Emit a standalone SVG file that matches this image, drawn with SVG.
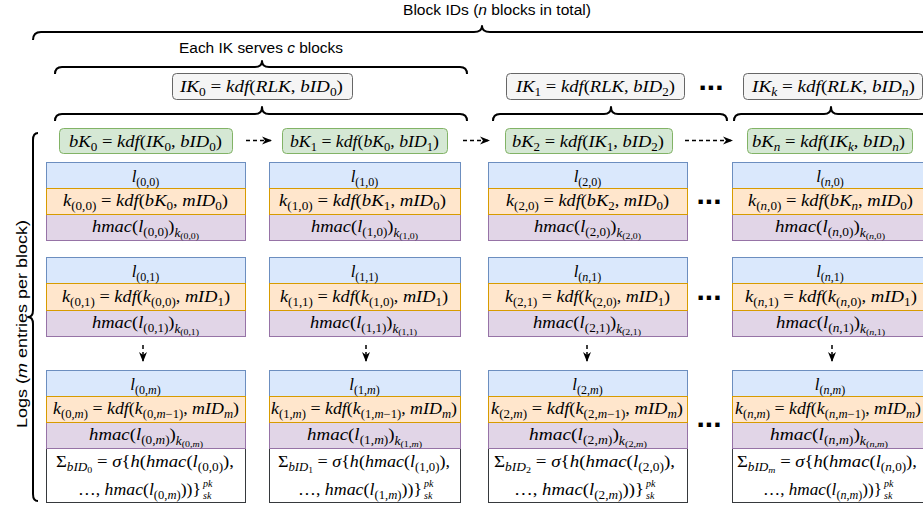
<svg xmlns="http://www.w3.org/2000/svg" width="923" height="508" viewBox="0 0 923 508">
<style>
.m{font-family:"Liberation Serif","DejaVu Serif",serif;font-size:17px;font-style:italic;fill:#000}
.r{font-style:normal}
.s{font-size:12px}
.ss{font-size:9px}
.sc{font-size:10px}
.sans{font-family:"Liberation Sans",Arial,sans-serif;font-size:15.5px;fill:#000}
.dots{font-family:"Liberation Sans",Arial,sans-serif;font-size:30px;font-weight:bold;fill:#000}
.brace{fill:none;stroke:#000;stroke-width:2;stroke-linejoin:round}
.blue{fill:#dae8fc;stroke:#6c8ebf}
.orange{fill:#ffe6cc;stroke:#d79b00}
.purple{fill:#e1d5e7;stroke:#9673a6}
.white{fill:#fff;stroke:#36393d}
.green{fill:#d5e8d4;stroke:#82b366}
.gray{fill:#f5f5f5;stroke:#666}
.conn{fill:none;stroke:#000;stroke-width:1.5;stroke-dasharray:4 3}
</style>
<defs>
<marker id="ah" viewBox="0 0 10 10" refX="9" refY="5" markerWidth="10" markerHeight="10" markerUnits="userSpaceOnUse" orient="auto"><path d="M0,1 L10,5 L0,9 L3,5 Z" fill="#000"/></marker>
</defs>

<g id="labels">
<text class="sans" x="403" y="15" textLength="188" lengthAdjust="spacingAndGlyphs">Block IDs (<tspan font-style="italic">n</tspan> blocks in total)</text>
<text class="sans" x="179" y="53" textLength="164" lengthAdjust="spacingAndGlyphs">Each IK serves <tspan font-style="italic">c</tspan> blocks</text>
<text class="sans" transform="translate(27,324) rotate(-90)" x="-104" y="0" font-size="16" textLength="208" lengthAdjust="spacingAndGlyphs">Logs (<tspan font-style="italic">m</tspan> entries per block)</text>
</g>

<g id="braces">
<path class="brace" d="M33,40 Q33,32 41,32 L474,32 Q482,32 482,26 Q482,32 490,32 L930,32"/>
<path class="brace" d="M55,74 Q55,67 62,67 L255,67 Q262,67 262,61 Q262,67 269,67 L460,67 Q467,67 467,74"/>
<path class="brace" d="M55,121 Q55,114 62,114 L255,114 Q262,114 262,107 Q262,114 269,114 L460,114 Q467,114 467,121"/>
<path class="brace" d="M493,121 Q493,114 500,114 L604,114 Q611,114 611,107 Q611,114 618,114 L720,114 Q727,114 727,121"/>
<path class="brace" d="M734,121 Q734,114 741,114 L824,114 Q831,114 831,107 Q831,114 838,114 L930,114"/>
<path class="brace" d="M38,133 Q33,133 33,140 L33,310 Q33,317 28,317 Q33,317 33,324 L33,494 Q33,501 38,501"/>
</g>

<g id="ik0">
<rect class="gray" x="172.5" y="73.5" width="180" height="26" rx="4"/>
<text class="m" x="180" y="92" textLength="163" lengthAdjust="spacingAndGlyphs">IK<tspan class="s r" dy="4">0</tspan><tspan class="r" dy="-4"> = </tspan>kdf<tspan class="r">(</tspan>RLK<tspan class="r">, </tspan>bID<tspan class="s r" dy="4">0</tspan><tspan class="r" dy="-4">)</tspan></text>
</g>
<g id="ik1">
<rect class="gray" x="506.5" y="73.5" width="178" height="26" rx="4"/>
<text class="m" x="516" y="92" textLength="159" lengthAdjust="spacingAndGlyphs">IK<tspan class="s r" dy="4">1</tspan><tspan class="r" dy="-4"> = </tspan>kdf<tspan class="r">(</tspan>RLK<tspan class="r">, </tspan>bID<tspan class="s r" dy="4">2</tspan><tspan class="r" dy="-4">)</tspan></text>
</g>
<text class="dots" x="711" y="90" text-anchor="middle">...</text>
<g id="ikk">
<rect class="gray" x="743.5" y="73.5" width="179" height="26" rx="4"/>
<text class="m" x="752" y="92" textLength="163" lengthAdjust="spacingAndGlyphs">IK<tspan class="s" dy="4">k</tspan><tspan class="r" dy="-4"> = </tspan>kdf<tspan class="r">(</tspan>RLK<tspan class="r">, </tspan>bID<tspan class="s" dy="4">n</tspan><tspan class="r" dy="-4">)</tspan></text>
</g>

<g id="bk0">
<rect class="green" x="59.5" y="128.5" width="173" height="25" rx="4"/>
<text class="m" x="69" y="146.5" textLength="153" lengthAdjust="spacingAndGlyphs">bK<tspan class="s r" dy="4">0</tspan><tspan class="r" dy="-4"> = </tspan>kdf<tspan class="r">(</tspan>IK<tspan class="s r" dy="4">0</tspan><tspan class="r" dy="-4">, </tspan>bID<tspan class="s r" dy="4">0</tspan><tspan class="r" dy="-4">)</tspan></text>
</g>
<g id="bk1">
<rect class="green" x="282.5" y="128.5" width="165" height="25" rx="4"/>
<text class="m" x="290" y="146.5" textLength="149" lengthAdjust="spacingAndGlyphs">bK<tspan class="s r" dy="4">1</tspan><tspan class="r" dy="-4"> = </tspan>kdf<tspan class="r">(</tspan>bK<tspan class="s r" dy="4">0</tspan><tspan class="r" dy="-4">, </tspan>bID<tspan class="s r" dy="4">1</tspan><tspan class="r" dy="-4">)</tspan></text>
</g>
<g id="bk2">
<rect class="green" x="505.5" y="128.5" width="167" height="25" rx="4"/>
<text class="m" x="512" y="146.5" textLength="152" lengthAdjust="spacingAndGlyphs">bK<tspan class="s r" dy="4">2</tspan><tspan class="r" dy="-4"> = </tspan>kdf<tspan class="r">(</tspan>IK<tspan class="s r" dy="4">1</tspan><tspan class="r" dy="-4">, </tspan>bID<tspan class="s r" dy="4">2</tspan><tspan class="r" dy="-4">)</tspan></text>
</g>
<g id="bkn">
<rect class="green" x="747.5" y="128.5" width="165" height="25" rx="4"/>
<text class="m" x="752" y="146.5" textLength="153" lengthAdjust="spacingAndGlyphs">bK<tspan class="s" dy="4">n</tspan><tspan class="r" dy="-4"> = </tspan>kdf<tspan class="r">(</tspan>IK<tspan class="s" dy="4">k</tspan><tspan class="r" dy="-4">, </tspan>bID<tspan class="s" dy="4">n</tspan><tspan class="r" dy="-4">)</tspan></text>
</g>

<g id="connectors">
<line class="conn" x1="246" y1="140.5" x2="271" y2="140.5" marker-end="url(#ah)"/>
<line class="conn" x1="463" y1="140.5" x2="489" y2="140.5" marker-end="url(#ah)"/>
<line class="conn" x1="685" y1="140.5" x2="732" y2="140.5" marker-end="url(#ah)"/>
<line class="conn" x1="143" y1="345" x2="143" y2="361" marker-end="url(#ah)"/>
<line class="conn" x1="366" y1="345" x2="366" y2="361" marker-end="url(#ah)"/>
<line class="conn" x1="587" y1="345" x2="587" y2="361" marker-end="url(#ah)"/>
<line class="conn" x1="832" y1="345" x2="832" y2="361" marker-end="url(#ah)"/>
</g>

<!-- column 0 -->
<g id="e00">
<rect class="blue" x="46.5" y="162.5" width="199" height="26"/>
<rect class="purple" x="46.5" y="214.5" width="199" height="26"/>
<rect class="orange" x="46.5" y="188.5" width="199" height="26"/>
<text class="m" x="145.5" y="181.5" text-anchor="middle">l<tspan class="s r" dy="4">(0,0)</tspan></text>
<text class="m" x="63" y="206" textLength="165" lengthAdjust="spacingAndGlyphs">k<tspan class="s r" dy="4">(0,0)</tspan><tspan class="r" dy="-4"> = </tspan>kdf<tspan class="r">(</tspan>bK<tspan class="s r" dy="4">0</tspan><tspan class="r" dy="-4">, </tspan>mID<tspan class="s r" dy="4">0</tspan><tspan class="r" dy="-4">)</tspan></text>
<text class="m" x="92" y="232" textLength="107" lengthAdjust="spacingAndGlyphs">hmac<tspan class="r">(</tspan>l<tspan class="s r" dy="4">(0,0)</tspan><tspan class="r" dy="-4">)</tspan><tspan class="s" dy="5">k</tspan><tspan class="ss r" dy="2">(0,0)</tspan></text>
</g>
<g id="e01">
<rect class="blue" x="46.5" y="257.5" width="199" height="26"/>
<rect class="purple" x="46.5" y="310.5" width="199" height="26"/>
<rect class="orange" x="46.5" y="283.5" width="199" height="27"/>
<text class="m" x="145.5" y="276.5" text-anchor="middle">l<tspan class="s r" dy="4">(0,1)</tspan></text>
<text class="m" x="62" y="301.5" textLength="168" lengthAdjust="spacingAndGlyphs">k<tspan class="s r" dy="4">(0,1)</tspan><tspan class="r" dy="-4"> = </tspan>kdf<tspan class="r">(</tspan>k<tspan class="s r" dy="4">(0,0)</tspan><tspan class="r" dy="-4">, </tspan>mID<tspan class="s r" dy="4">1</tspan><tspan class="r" dy="-4">)</tspan></text>
<text class="m" x="92" y="328" textLength="107" lengthAdjust="spacingAndGlyphs">hmac<tspan class="r">(</tspan>l<tspan class="s r" dy="4">(0,1)</tspan><tspan class="r" dy="-4">)</tspan><tspan class="s" dy="5">k</tspan><tspan class="ss r" dy="2">(0,1)</tspan></text>
</g>
<g id="e0m">
<rect class="blue" x="46.5" y="370.5" width="199" height="26"/>
<rect class="white" x="46.5" y="448.5" width="199" height="54"/>
<rect class="purple" x="46.5" y="422.5" width="199" height="26"/>
<rect class="orange" x="46.5" y="396.5" width="199" height="26"/>
<text class="m" x="145.5" y="389.5" text-anchor="middle">l<tspan class="s" dy="4"><tspan class="r">(0,</tspan>m<tspan class="r">)</tspan></tspan></text>
<text class="m" x="53" y="414" textLength="186" lengthAdjust="spacingAndGlyphs">k<tspan class="s" dy="4"><tspan class="r">(0,</tspan>m<tspan class="r">)</tspan></tspan><tspan class="r" dy="-4"> = </tspan>kdf<tspan class="r">(</tspan>k<tspan class="s" dy="4"><tspan class="r">(0,</tspan>m<tspan class="r">−1)</tspan></tspan><tspan class="r" dy="-4">, </tspan>mID<tspan class="s" dy="4">m</tspan><tspan class="r" dy="-4">)</tspan></text>
<text class="m" x="89" y="440" textLength="114" lengthAdjust="spacingAndGlyphs">hmac<tspan class="r">(</tspan>l<tspan class="s" dy="4"><tspan class="r">(0,</tspan>m<tspan class="r">)</tspan></tspan><tspan class="r" dy="-4">)</tspan><tspan class="s" dy="5">k</tspan><tspan class="ss" dy="2"><tspan class="r">(0,</tspan>m<tspan class="r">)</tspan></tspan></text>
<text class="m" x="56" y="467" textLength="178" lengthAdjust="spacingAndGlyphs"><tspan class="r">Σ</tspan><tspan class="s" dy="4">bID</tspan><tspan class="ss r" dy="2">0</tspan><tspan class="r" dy="-6"> = </tspan>σ<tspan class="r">{</tspan>h<tspan class="r">(</tspan>hmac<tspan class="r">(</tspan>l<tspan class="s r" dy="4">(0,0)</tspan><tspan class="r" dy="-4">),</tspan></text>
<text class="m" x="78" y="495" textLength="123" lengthAdjust="spacingAndGlyphs"><tspan class="r">…, </tspan>hmac<tspan class="r">(</tspan>l<tspan class="s" dy="4"><tspan class="r">(0,</tspan>m<tspan class="r">)</tspan></tspan><tspan class="r" dy="-4">))}</tspan></text>
<text class="m sc" x="203" y="486.5">pk</text>
<text class="m sc" x="203" y="499">sk</text>
</g>

<!-- column 1 -->
<g id="e10">
<rect class="blue" x="269.5" y="162.5" width="191" height="26"/>
<rect class="purple" x="269.5" y="214.5" width="191" height="26"/>
<rect class="orange" x="269.5" y="188.5" width="191" height="26"/>
<text class="m" x="364.5" y="181.5" text-anchor="middle">l<tspan class="s r" dy="4">(1,0)</tspan></text>
<text class="m" x="279" y="206" textLength="167" lengthAdjust="spacingAndGlyphs">k<tspan class="s r" dy="4">(1,0)</tspan><tspan class="r" dy="-4"> = </tspan>kdf<tspan class="r">(</tspan>bK<tspan class="s r" dy="4">1</tspan><tspan class="r" dy="-4">, </tspan>mID<tspan class="s r" dy="4">0</tspan><tspan class="r" dy="-4">)</tspan></text>
<text class="m" x="311" y="232" textLength="107" lengthAdjust="spacingAndGlyphs">hmac<tspan class="r">(</tspan>l<tspan class="s r" dy="4">(1,0)</tspan><tspan class="r" dy="-4">)</tspan><tspan class="s" dy="5">k</tspan><tspan class="ss r" dy="2">(1,0)</tspan></text>
</g>
<g id="e11">
<rect class="blue" x="269.5" y="257.5" width="191" height="26"/>
<rect class="purple" x="269.5" y="310.5" width="191" height="26"/>
<rect class="orange" x="269.5" y="283.5" width="191" height="27"/>
<text class="m" x="364.5" y="276.5" text-anchor="middle">l<tspan class="s r" dy="4">(1,1)</tspan></text>
<text class="m" x="280" y="301.5" textLength="168" lengthAdjust="spacingAndGlyphs">k<tspan class="s r" dy="4">(1,1)</tspan><tspan class="r" dy="-4"> = </tspan>kdf<tspan class="r">(</tspan>k<tspan class="s r" dy="4">(1,0)</tspan><tspan class="r" dy="-4">, </tspan>mID<tspan class="s r" dy="4">1</tspan><tspan class="r" dy="-4">)</tspan></text>
<text class="m" x="310" y="328" textLength="107" lengthAdjust="spacingAndGlyphs">hmac<tspan class="r">(</tspan>l<tspan class="s r" dy="4">(1,1)</tspan><tspan class="r" dy="-4">)</tspan><tspan class="s" dy="5">k</tspan><tspan class="ss r" dy="2">(1,1)</tspan></text>
</g>
<g id="e1m">
<rect class="blue" x="269.5" y="370.5" width="191" height="26"/>
<rect class="white" x="269.5" y="448.5" width="191" height="54"/>
<rect class="purple" x="269.5" y="422.5" width="191" height="26"/>
<rect class="orange" x="269.5" y="396.5" width="191" height="26"/>
<text class="m" x="364.5" y="389.5" text-anchor="middle">l<tspan class="s" dy="4"><tspan class="r">(1,</tspan>m<tspan class="r">)</tspan></tspan></text>
<text class="m" x="271" y="414" textLength="186" lengthAdjust="spacingAndGlyphs">k<tspan class="s" dy="4"><tspan class="r">(1,</tspan>m<tspan class="r">)</tspan></tspan><tspan class="r" dy="-4"> = </tspan>kdf<tspan class="r">(</tspan>k<tspan class="s" dy="4"><tspan class="r">(1,</tspan>m<tspan class="r">−1)</tspan></tspan><tspan class="r" dy="-4">, </tspan>mID<tspan class="s" dy="4">m</tspan><tspan class="r" dy="-4">)</tspan></text>
<text class="m" x="307" y="440" textLength="115" lengthAdjust="spacingAndGlyphs">hmac<tspan class="r">(</tspan>l<tspan class="s" dy="4"><tspan class="r">(1,</tspan>m<tspan class="r">)</tspan></tspan><tspan class="r" dy="-4">)</tspan><tspan class="s" dy="5">k</tspan><tspan class="ss" dy="2"><tspan class="r">(1,</tspan>m<tspan class="r">)</tspan></tspan></text>
<text class="m" x="278" y="467" textLength="172" lengthAdjust="spacingAndGlyphs"><tspan class="r">Σ</tspan><tspan class="s" dy="4">bID</tspan><tspan class="ss r" dy="2">1</tspan><tspan class="r" dy="-6"> = </tspan>σ<tspan class="r">{</tspan>h<tspan class="r">(</tspan>hmac<tspan class="r">(</tspan>l<tspan class="s r" dy="4">(1,0)</tspan><tspan class="r" dy="-4">),</tspan></text>
<text class="m" x="298" y="495" textLength="124" lengthAdjust="spacingAndGlyphs"><tspan class="r">…, </tspan>hmac<tspan class="r">(</tspan>l<tspan class="s" dy="4"><tspan class="r">(1,</tspan>m<tspan class="r">)</tspan></tspan><tspan class="r" dy="-4">))}</tspan></text>
<text class="m sc" x="424" y="486.5">pk</text>
<text class="m sc" x="424" y="499">sk</text>
</g>

<!-- column 2 -->
<g id="e20">
<rect class="blue" x="488.5" y="162.5" width="199" height="26"/>
<rect class="purple" x="488.5" y="214.5" width="199" height="26"/>
<rect class="orange" x="488.5" y="188.5" width="199" height="26"/>
<text class="m" x="587.5" y="181.5" text-anchor="middle">l<tspan class="s r" dy="4">(2,0)</tspan></text>
<text class="m" x="506" y="206" textLength="163" lengthAdjust="spacingAndGlyphs">k<tspan class="s r" dy="4">(2,0)</tspan><tspan class="r" dy="-4"> = </tspan>kdf<tspan class="r">(</tspan>bK<tspan class="s r" dy="4">2</tspan><tspan class="r" dy="-4">, </tspan>mID<tspan class="s r" dy="4">0</tspan><tspan class="r" dy="-4">)</tspan></text>
<text class="m" x="534" y="232" textLength="107" lengthAdjust="spacingAndGlyphs">hmac<tspan class="r">(</tspan>l<tspan class="s r" dy="4">(2,0)</tspan><tspan class="r" dy="-4">)</tspan><tspan class="s" dy="5">k</tspan><tspan class="ss r" dy="2">(2,0)</tspan></text>
</g>
<g id="e21">
<rect class="blue" x="488.5" y="257.5" width="199" height="26"/>
<rect class="purple" x="488.5" y="310.5" width="199" height="26"/>
<rect class="orange" x="488.5" y="283.5" width="199" height="27"/>
<text class="m" x="587.5" y="276.5" text-anchor="middle">l<tspan class="s" dy="4"><tspan class="r">(</tspan>n<tspan class="r">,1)</tspan></tspan></text>
<text class="m" x="505" y="301.5" textLength="165" lengthAdjust="spacingAndGlyphs">k<tspan class="s r" dy="4">(2,1)</tspan><tspan class="r" dy="-4"> = </tspan>kdf<tspan class="r">(</tspan>k<tspan class="s r" dy="4">(2,0)</tspan><tspan class="r" dy="-4">, </tspan>mID<tspan class="s r" dy="4">1</tspan><tspan class="r" dy="-4">)</tspan></text>
<text class="m" x="533" y="328" textLength="108" lengthAdjust="spacingAndGlyphs">hmac<tspan class="r">(</tspan>l<tspan class="s r" dy="4">(2,1)</tspan><tspan class="r" dy="-4">)</tspan><tspan class="s" dy="5">k</tspan><tspan class="ss r" dy="2">(2,1)</tspan></text>
</g>
<g id="e2m">
<rect class="blue" x="488.5" y="370.5" width="199" height="26"/>
<rect class="white" x="488.5" y="448.5" width="199" height="54"/>
<rect class="purple" x="488.5" y="422.5" width="199" height="26"/>
<rect class="orange" x="488.5" y="396.5" width="199" height="26"/>
<text class="m" x="587.5" y="389.5" text-anchor="middle">l<tspan class="s" dy="4"><tspan class="r">(2,</tspan>m<tspan class="r">)</tspan></tspan></text>
<text class="m" x="491" y="414" textLength="192" lengthAdjust="spacingAndGlyphs">k<tspan class="s" dy="4"><tspan class="r">(2,</tspan>m<tspan class="r">)</tspan></tspan><tspan class="r" dy="-4"> = </tspan>kdf<tspan class="r">(</tspan>k<tspan class="s" dy="4"><tspan class="r">(2,</tspan>m<tspan class="r">−1)</tspan></tspan><tspan class="r" dy="-4">, </tspan>mID<tspan class="s" dy="4">m</tspan><tspan class="r" dy="-4">)</tspan></text>
<text class="m" x="529" y="440" textLength="118" lengthAdjust="spacingAndGlyphs">hmac<tspan class="r">(</tspan>l<tspan class="s" dy="4"><tspan class="r">(2,</tspan>m<tspan class="r">)</tspan></tspan><tspan class="r" dy="-4">)</tspan><tspan class="s" dy="5">k</tspan><tspan class="ss" dy="2"><tspan class="r">(2,</tspan>m<tspan class="r">)</tspan></tspan></text>
<text class="m" x="494" y="467" textLength="181" lengthAdjust="spacingAndGlyphs"><tspan class="r">Σ</tspan><tspan class="s" dy="4">bID</tspan><tspan class="ss r" dy="2">2</tspan><tspan class="r" dy="-6"> = </tspan>σ<tspan class="r">{</tspan>h<tspan class="r">(</tspan>hmac<tspan class="r">(</tspan>l<tspan class="s r" dy="4">(2,0)</tspan><tspan class="r" dy="-4">),</tspan></text>
<text class="m" x="514" y="495" textLength="130" lengthAdjust="spacingAndGlyphs"><tspan class="r">…, </tspan>hmac<tspan class="r">(</tspan>l<tspan class="s" dy="4"><tspan class="r">(2,</tspan>m<tspan class="r">)</tspan></tspan><tspan class="r" dy="-4">))}</tspan></text>
<text class="m sc" x="646" y="486.5">pk</text>
<text class="m sc" x="646" y="499">sk</text>
</g>

<text class="dots" x="709" y="204" text-anchor="middle">...</text>
<text class="dots" x="709" y="300" text-anchor="middle">...</text>
<text class="dots" x="709" y="427" text-anchor="middle">...</text>

<!-- column n -->
<g id="en0">
<rect class="blue" x="732.5" y="162.5" width="200" height="26"/>
<rect class="purple" x="732.5" y="214.5" width="200" height="26"/>
<rect class="orange" x="732.5" y="188.5" width="200" height="26"/>
<text class="m" x="830" y="181.5" text-anchor="middle">l<tspan class="s" dy="4"><tspan class="r">(</tspan>n<tspan class="r">,0)</tspan></tspan></text>
<text class="m" x="748" y="206" textLength="165" lengthAdjust="spacingAndGlyphs">k<tspan class="s" dy="4"><tspan class="r">(</tspan>n<tspan class="r">,0)</tspan></tspan><tspan class="r" dy="-4"> = </tspan>kdf<tspan class="r">(</tspan>bK<tspan class="s" dy="4">n</tspan><tspan class="r" dy="-4">, </tspan>mID<tspan class="s r" dy="4">0</tspan><tspan class="r" dy="-4">)</tspan></text>
<text class="m" x="775" y="232" textLength="110" lengthAdjust="spacingAndGlyphs">hmac<tspan class="r">(</tspan>l<tspan class="s" dy="4"><tspan class="r">(</tspan>n<tspan class="r">,0)</tspan></tspan><tspan class="r" dy="-4">)</tspan><tspan class="s" dy="5">k</tspan><tspan class="ss" dy="2"><tspan class="r">(</tspan>n<tspan class="r">,0)</tspan></tspan></text>
</g>
<g id="en1">
<rect class="blue" x="732.5" y="257.5" width="200" height="26"/>
<rect class="purple" x="732.5" y="310.5" width="200" height="26"/>
<rect class="orange" x="732.5" y="283.5" width="200" height="27"/>
<text class="m" x="830" y="276.5" text-anchor="middle">l<tspan class="s" dy="4"><tspan class="r">(</tspan>n<tspan class="r">,1)</tspan></tspan></text>
<text class="m" x="745" y="301.5" textLength="172" lengthAdjust="spacingAndGlyphs">k<tspan class="s" dy="4"><tspan class="r">(</tspan>n<tspan class="r">,1)</tspan></tspan><tspan class="r" dy="-4"> = </tspan>kdf<tspan class="r">(</tspan>k<tspan class="s" dy="4"><tspan class="r">(</tspan>n<tspan class="r">,0)</tspan></tspan><tspan class="r" dy="-4">, </tspan>mID<tspan class="s r" dy="4">1</tspan><tspan class="r" dy="-4">)</tspan></text>
<text class="m" x="776" y="328" textLength="109" lengthAdjust="spacingAndGlyphs">hmac<tspan class="r">(</tspan>l<tspan class="s" dy="4"><tspan class="r">(</tspan>n<tspan class="r">,1)</tspan></tspan><tspan class="r" dy="-4">)</tspan><tspan class="s" dy="5">k</tspan><tspan class="ss" dy="2"><tspan class="r">(</tspan>n<tspan class="r">,1)</tspan></tspan></text>
</g>
<g id="enm">
<rect class="blue" x="732.5" y="370.5" width="200" height="26"/>
<rect class="white" x="732.5" y="448.5" width="200" height="54"/>
<rect class="purple" x="732.5" y="422.5" width="200" height="26"/>
<rect class="orange" x="732.5" y="396.5" width="200" height="26"/>
<text class="m" x="830" y="389.5" text-anchor="middle">l<tspan class="s" dy="4"><tspan class="r">(</tspan>n<tspan class="r">,</tspan>m<tspan class="r">)</tspan></tspan></text>
<text class="m" x="735" y="414" textLength="186" lengthAdjust="spacingAndGlyphs">k<tspan class="s" dy="4"><tspan class="r">(</tspan>n<tspan class="r">,</tspan>m<tspan class="r">)</tspan></tspan><tspan class="r" dy="-4"> = </tspan>kdf<tspan class="r">(</tspan>k<tspan class="s" dy="4"><tspan class="r">(</tspan>n<tspan class="r">,</tspan>m<tspan class="r">−1)</tspan></tspan><tspan class="r" dy="-4">, </tspan>mID<tspan class="s" dy="4">m</tspan><tspan class="r" dy="-4">)</tspan></text>
<text class="m" x="770" y="440" textLength="118" lengthAdjust="spacingAndGlyphs">hmac<tspan class="r">(</tspan>l<tspan class="s" dy="4"><tspan class="r">(</tspan>n<tspan class="r">,</tspan>m<tspan class="r">)</tspan></tspan><tspan class="r" dy="-4">)</tspan><tspan class="s" dy="5">k</tspan><tspan class="ss" dy="2"><tspan class="r">(</tspan>n<tspan class="r">,</tspan>m<tspan class="r">)</tspan></tspan></text>
<text class="m" x="737" y="467" textLength="180" lengthAdjust="spacingAndGlyphs"><tspan class="r">Σ</tspan><tspan class="s" dy="4">bID</tspan><tspan class="ss" dy="2">m</tspan><tspan class="r" dy="-6"> = </tspan>σ<tspan class="r">{</tspan>h<tspan class="r">(</tspan>hmac<tspan class="r">(</tspan>l<tspan class="s" dy="4"><tspan class="r">(</tspan>n<tspan class="r">,0)</tspan></tspan><tspan class="r" dy="-4">),</tspan></text>
<text class="m" x="763" y="495" textLength="119" lengthAdjust="spacingAndGlyphs"><tspan class="r">…, </tspan>hmac<tspan class="r">(</tspan>l<tspan class="s" dy="4"><tspan class="r">(</tspan>n<tspan class="r">,</tspan>m<tspan class="r">)</tspan></tspan><tspan class="r" dy="-4">))}</tspan></text>
<text class="m sc" x="884" y="486.5">pk</text>
<text class="m sc" x="884" y="499">sk</text>
</g>
</svg>
